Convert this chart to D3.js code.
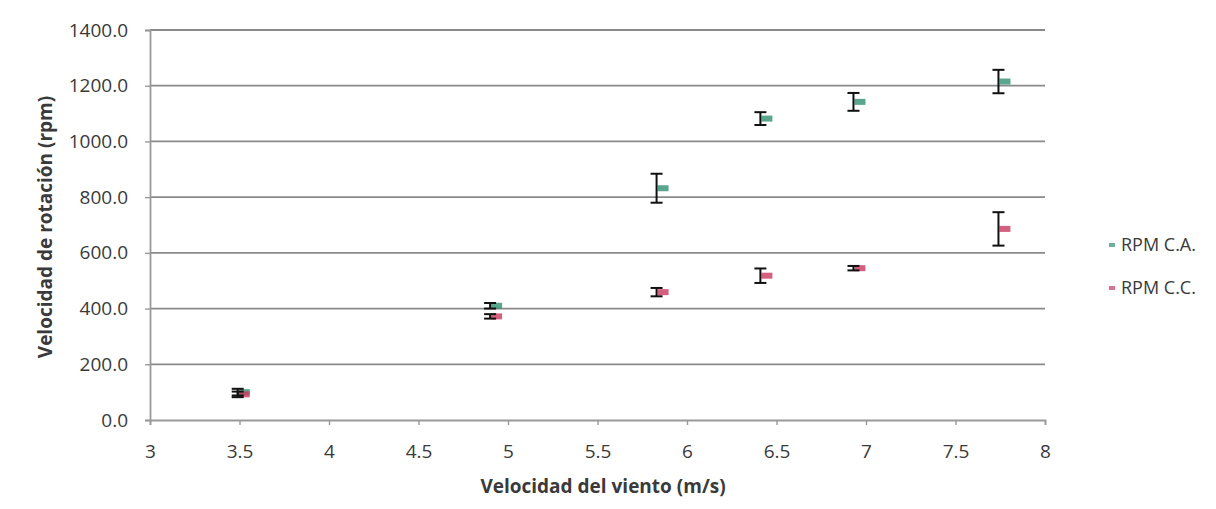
<!DOCTYPE html>
<html><head><meta charset="utf-8">
<script src="https://cdn.jsdelivr.net/npm/d3@7"></script>
<style>body{margin:0;background:#fff;} text{font-family:"Open Sans",Lato,sans-serif;}</style>
</head><body><svg id="c" width="1216" height="509"></svg>
<script>
const windSpeed = [3.49, 4.90, 5.83, 6.41, 6.93, 7.74];
const rpmCA = [100, 410, 832, 1082, 1142, 1215];
const errCA = [12, 10, 52, 23, 32, 42];
const rpmCC = [92, 372, 459, 518, 545, 686];
const errCC = [10, 8, 15, 26, 8, 60];
const seriesNames = ["RPM C.A.", "RPM C.C."];
const xTicks = [3, 3.5, 4, 4.5, 5, 5.5, 6, 6.5, 7, 7.5, 8];
const yTicks = [0, 200, 400, 600, 800, 1000, 1200, 1400];
const colors = ["#2f8f72", "#c8385f"];

const svg = d3.select("#c");
const x = d3.scaleLinear().domain([3, 8]).range([150, 1045]);
const y = d3.scaleLinear().domain([0, 1400]).range([420, 30]);
const txt = "#3a3a3a";

// gridlines
svg.append("g").selectAll("line").data(yTicks.filter(d => d > 0)).join("line")
  .attr("x1", x(3)).attr("x2", x(8)).attr("y1", d => y(d)).attr("y2", d => y(d))
  .attr("stroke", "#8a8a8a").attr("stroke-width", 1.8);

// y axis
const ya = svg.append("g").attr("transform", `translate(${x(3)},0)`)
  .call(d3.axisLeft(y).tickValues(yTicks).tickFormat(d3.format(".1f")).tickSize(5).tickPadding(17));
ya.select(".domain").attr("stroke", "#999").attr("stroke-width", 1.8);
ya.selectAll(".tick line").attr("stroke", "#999").attr("stroke-width", 1.4);
ya.selectAll("text").attr("font-size", 19).attr("fill", txt).attr("font-family", "'Open Sans',sans-serif");

// x axis
const xa = svg.append("g").attr("transform", `translate(0,${y(0)})`)
  .call(d3.axisBottom(x).tickValues(xTicks).tickFormat(d => d3.format("")(d)).tickSize(5).tickPadding(20));
xa.select(".domain").attr("stroke", "#999").attr("stroke-width", 1.8);
xa.selectAll(".tick line").attr("stroke", "#999").attr("stroke-width", 1.4);
xa.selectAll("text").attr("font-size", 19).attr("fill", txt).attr("font-family", "'Open Sans',sans-serif");

// axis titles
svg.append("text").attr("x", 603).attr("y", 493).attr("text-anchor", "middle")
  .attr("font-size", 19).attr("font-weight", "bold").attr("fill", txt)
  .text("Velocidad del viento (m/s)");
svg.append("text").attr("transform", "translate(52,227) rotate(-90)").attr("text-anchor", "middle")
  .attr("font-size", 19).attr("font-weight", "bold").attr("fill", txt)
  .text("Velocidad de rotación (rpm)");

// series
const series = [
  {name: seriesNames[0], vals: rpmCA, errs: errCA, color: colors[0]},
  {name: seriesNames[1], vals: rpmCC, errs: errCC, color: colors[1]}
];
series.forEach(s => {
  const pts = windSpeed.map((w, i) => ({w, v: s.vals[i], e: s.errs[i]}));
  const g = svg.append("g");
  g.selectAll("rect").data(pts).join("rect")
    .attr("x", d => x(d.w) + 1).attr("y", d => y(d.v) - 3)
    .attr("width", 11).attr("height", 6)
    .attr("fill", s.color).attr("opacity", 0.8);
});
series.forEach(s => {
  const pts = windSpeed.map((w, i) => ({w, v: s.vals[i], e: s.errs[i]}));
  const g = svg.append("g").attr("stroke", "#111").attr("stroke-width", 2);
  g.selectAll("line.v").data(pts).join("line").attr("class", "v")
    .attr("x1", d => x(d.w)).attr("x2", d => x(d.w))
    .attr("y1", d => y(d.v + d.e)).attr("y2", d => y(d.v - d.e));
  g.selectAll("line.t").data(pts).join("line").attr("class", "t")
    .attr("x1", d => x(d.w) - 6).attr("x2", d => x(d.w) + 6)
    .attr("y1", d => y(d.v + d.e)).attr("y2", d => y(d.v + d.e));
  g.selectAll("line.b").data(pts).join("line").attr("class", "b")
    .attr("x1", d => x(d.w) - 6).attr("x2", d => x(d.w) + 6)
    .attr("y1", d => y(d.v - d.e)).attr("y2", d => y(d.v - d.e));
});

// legend
const lg = svg.append("g");
series.forEach((s, i) => {
  const ly = 245 + i * 43;
  lg.append("rect").attr("x", 1109).attr("y", ly - 2).attr("width", 6).attr("height", 4)
    .attr("fill", s.color).attr("opacity", 0.7);
  lg.append("text").attr("x", 1121).attr("y", ly + 6).attr("font-size", 18)
    .attr("fill", txt).text(s.name);
});
</script></body></html>
